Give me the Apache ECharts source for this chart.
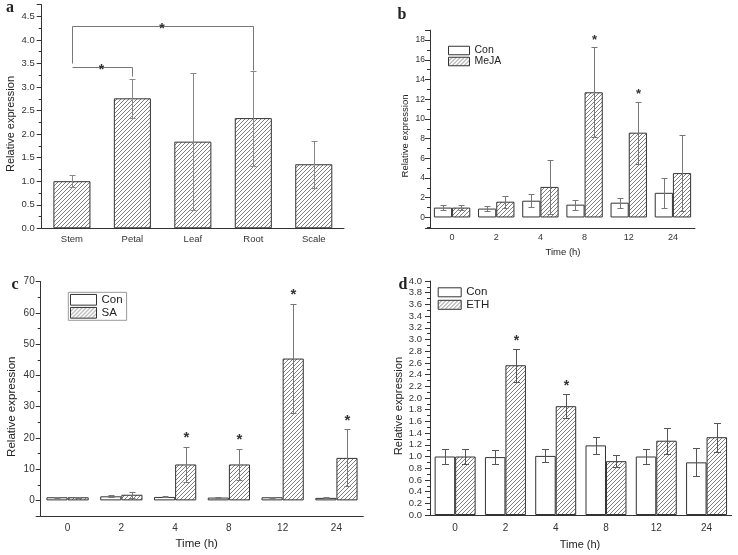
<!DOCTYPE html>
<html><head><meta charset="utf-8">
<script src="https://cdn.jsdelivr.net/npm/echarts@6/dist/echarts.min.js"></script>
<style>html,body{margin:0;padding:0;background:#fff}#c{width:738px;height:555px}</style>
</head><body><div id="c"></div>
<script>
// ---- Panel a ----
const aCats = ['Stem', 'Petal', 'Leaf', 'Root', 'Scale'];
const aMean = [1.0, 2.76, 1.84, 2.34, 1.36];
const aSD = [0.125, 0.41, 1.46, 1.01, 0.495];
const aBrFrom = [0, 0];
const aBrTo = [1, 3];
const aBrLevel = [3.42, 4.3];
const aBrLegFrom = [3.42, 3.5];
const aBrLegTo = [3.23, 3.37];

// ---- Time categories ----
const timeCats = ['0', '2', '4', '8', '12', '24'];

// ---- Panel b (MeJA) ----
const bCon = [1.0, 0.9, 1.7, 1.3, 1.5, 2.5];
const bConSD = [0.25, 0.25, 0.68, 0.5, 0.5, 1.5];
const bMeJA = [1.0, 1.6, 3.1, 12.7, 8.6, 4.5];
const bMeJASD = [0.25, 0.6, 2.7, 4.55, 3.15, 3.85];
const bSig = [0, 0, 0, 1, 1, 0];

// ---- Panel c (SA) ----
const cCon = [1.0, 1.3, 1.1, 0.9, 1.0, 0.8];
const cConSD = [0.15, 0.35, 0.15, 0.1, 0.15, 0.15];
const cSA = [1.0, 1.8, 11.5, 11.5, 45.4, 13.6];
const cSASD = [0.15, 1.0, 5.6, 4.9, 17.4, 9.1];
const cSig = [0, 0, 1, 1, 1, 1];

// ---- Panel d (ETH) ----
const dCon = [1.0, 0.99, 1.01, 1.19, 1.0, 0.9];
const dConSD = [0.12, 0.12, 0.11, 0.15, 0.12, 0.24];
const dETH = [1.0, 2.56, 1.86, 0.92, 1.27, 1.33];
const dETHSD = [0.12, 0.28, 0.2, 0.1, 0.22, 0.25];
const dSig = [0, 1, 1, 0, 0, 0];

const F = '"Liberation Sans", Arial, sans-serif';
const AX = '#333';

function makeHatch() {
  const s = 4;
  const c = document.createElement('canvas');
  c.width = s; c.height = s;
  const g = c.getContext('2d');
  g.fillStyle = '#fff'; g.fillRect(0, 0, s, s);
  g.strokeStyle = '#808080'; g.lineWidth = 1;
  g.beginPath();
  g.moveTo(0, s); g.lineTo(s, 0);
  g.moveTo(-1, 1); g.lineTo(1, -1);
  g.moveTo(s - 1, s + 1); g.lineTo(s + 1, s - 1);
  g.stroke();
  return c;
}
const hatch = { image: makeHatch(), repeat: 'repeat' };

function errData(mean, sd, sig) {
  return mean.map((m, i) => [i, m - sd[i], m + sd[i], sig ? sig[i] : 0]);
}

function errRender(slot, nSlots, gap, capW, color, starSize, starGap) {
  return function (params, api) {
    const i = api.value(0);
    const lo = api.coord([i, api.value(1)]);
    const hi = api.coord([i, api.value(2)]);
    const band = api.size([1, 0])[0];
    const bw = band * (1 - gap) / nSlots;
    const x = Math.round(lo[0] + (slot - (nSlots - 1) / 2) * bw) + 0.5;
    const yl = Math.round(lo[1]) + 0.5, yh = Math.round(hi[1]) + 0.5;
    const ls = { stroke: color, lineWidth: 1 };
    const ch = [
      { type: 'line', shape: { x1: x, y1: yl, x2: x, y2: yh }, style: ls },
      { type: 'line', shape: { x1: x - capW / 2, y1: yh, x2: x + capW / 2, y2: yh }, style: ls },
      { type: 'line', shape: { x1: x - capW / 2, y1: yl, x2: x + capW / 2, y2: yl }, style: ls }
    ];
    if (api.value(3)) {
      ch.push({ type: 'text', x: x, y: hi[1] - starGap,
        style: { text: '*', fill: '#333', font: 'bold ' + starSize + 'px ' + F, align: 'center', verticalAlign: 'middle' } });
    }
    return { type: 'group', children: ch };
  };
}

function bracketRender(params, api) {
  const f = api.value(0), lvl = api.value(1), t = api.value(2), lf = api.value(3), lt = api.value(4);
  const r = p => [Math.round(p[0]) + 0.5, Math.round(p[1]) + 0.5];
  const p1 = r(api.coord([f, lf])), p2 = r(api.coord([f, lvl])), p3 = r(api.coord([t, lvl])), p4 = r(api.coord([t, lt]));
  return { type: 'group', children: [
    { type: 'polyline', shape: { points: [p1, p2, p3, p4] }, style: { stroke: '#777', lineWidth: 1, fill: null } },
    { type: 'text', x: (p2[0] + p3[0]) / 2 - 1, y: p2[1] + 3,
      style: { text: '*', font: 'bold 14px ' + F, fill: '#333', align: 'center', verticalAlign: 'middle' } }
  ] };
}

function yAx(grid, min, max, extra, labelSize, labelMargin, showMin, showMax, fmt) {
  return Object.assign({
    type: 'value', gridIndex: grid, min: min, max: max,
    axisLine: { show: true, lineStyle: { color: AX } },
    axisTick: { show: true, length: 5, lineStyle: { color: AX } },
    minorTick: { show: true, splitNumber: 2, length: 3, lineStyle: { color: AX } },
    splitLine: { show: false }, minorSplitLine: { show: false },
    axisLabel: { fontSize: labelSize, color: '#333', fontFamily: F, margin: labelMargin,
      showMinLabel: showMin, showMaxLabel: showMax, formatter: fmt }
  }, extra);
}
function xAxes(grid, cats, labelSize, labelMargin) {
  return [
    { type: 'category', gridIndex: grid, data: cats, position: 'bottom',
      axisLine: { onZero: false, lineStyle: { color: AX } },
      axisTick: { alignWithLabel: true, length: 4, lineStyle: { color: AX } },
      axisLabel: { fontSize: labelSize, color: '#333', fontFamily: F, margin: labelMargin } },
    { type: 'category', gridIndex: grid, data: cats, position: 'bottom',
      axisLine: { show: false, onZero: false },
      axisTick: { length: 3, lineStyle: { color: AX } },
      axisLabel: { show: false } }
  ];
}

const conStyle = { color: '#fff', borderColor: '#333', borderWidth: 1 };
const hatchStyle = { color: hatch, borderColor: '#333', borderWidth: 1 };

function pairSeries(xi, yi, gap, names, m1, s1, m2, s2, sig, cap, errColor, starSize, starGap) {
  const g = (gap * 100) + '%';
  return [
    { name: names[0], type: 'bar', xAxisIndex: xi, yAxisIndex: yi, data: m1, barGap: '0%', barCategoryGap: g, itemStyle: conStyle, silent: true },
    { name: names[1], type: 'bar', xAxisIndex: xi, yAxisIndex: yi, data: m2, barGap: '0%', barCategoryGap: g, itemStyle: hatchStyle, silent: true },
    { type: 'custom', xAxisIndex: xi, yAxisIndex: yi, z: 5, silent: true, encode: { x: 0, y: [1, 2] },
      renderItem: errRender(0, 2, gap, cap, errColor, starSize, starGap), data: errData(m1, s1) },
    { type: 'custom', xAxisIndex: xi, yAxisIndex: yi, z: 5, silent: true, encode: { x: 0, y: [1, 2] },
      renderItem: errRender(1, 2, gap, cap, errColor, starSize, starGap), data: errData(m2, s2, sig) }
  ];
}

function legend(left, top, names, iw, ih, gap, fs, extra) {
  return Object.assign({
    orient: 'vertical', left: left, top: top, padding: 0, itemWidth: iw, itemHeight: ih, itemGap: gap,
    icon: 'rect', data: names, selectedMode: false,
    itemStyle: { borderColor: '#333', borderWidth: 1 },
    textStyle: { fontSize: fs, color: '#222', fontFamily: F }
  }, extra || {});
}

function txt(x, y, s, font, rot) {
  return { type: 'text', x: x, y: y, rotation: rot || 0,
    style: { text: s, font: font, fill: '#222', align: 'center', verticalAlign: 'middle' } };
}

const f1 = v => v.toFixed(1);

const option = {
  animation: false,
  backgroundColor: '#fff',
  grid: [
    { left: 41.7, top: 4.6, width: 302.3, height: 223.7 },
    { left: 430, top: 30.2, width: 265, height: 198.1 },
    { left: 40.7, top: 281.7, width: 322.6, height: 234.3 },
    { left: 430, top: 281, width: 301.7, height: 234 }
  ],
  xAxis: [].concat(
    xAxes(0, aCats, 9.5, 6),
    xAxes(1, timeCats, 9, 5),
    xAxes(2, timeCats, 10, 7),
    xAxes(3, timeCats, 10, 8)
  ),
  yAxis: [
    yAx(0, 0, 4.75, { interval: 0.5 }, 9.5, 7, true, false, f1),
    yAx(1, -1.1, 19, { splitNumber: 10 }, 8.5, 5, false, false),
    yAx(2, -5, 70, { splitNumber: 7 }, 10, 6, false, true),
    yAx(3, 0, 4, { interval: 0.2 }, 9.5, 8, true, true, f1)
  ],
  legend: [
    legend(448, 45, ['Con', 'MeJA'], 21, 8.5, 0, 10.5),
    legend(68.3, 292.3, ['Con', 'SA'], 26, 10.7, 1, 11.5,
      { borderColor: '#999', borderWidth: 1, padding: [1.5, 4, 1.5, 1.7] }),
    legend(437.7, 286.3, ['Con', 'ETH'], 23, 9, 0.5, 11.5)
  ],
  graphic: [
    txt(10, 8, 'a', 'bold 16px "Liberation Serif", serif'),
    txt(402, 15, 'b', 'bold 16px "Liberation Serif", serif'),
    txt(15, 285, 'c', 'bold 16px "Liberation Serif", serif'),
    txt(403, 284.5, 'd', 'bold 16px "Liberation Serif", serif'),
    txt(10.5, 124, 'Relative expression', '11px ' + F, Math.PI / 2),
    txt(405.5, 136, 'Relative expression', '9.5px ' + F, Math.PI / 2),
    txt(12, 406.7, 'Relative expression', '11.5px ' + F, Math.PI / 2),
    txt(398.7, 406, 'Relative expression', '11.3px ' + F, Math.PI / 2),
    txt(563, 252.5, 'Time (h)', '9.5px ' + F),
    txt(196.7, 544, 'Time (h)', '11.5px ' + F),
    txt(580, 545, 'Time (h)', '11px ' + F)
  ],
  series: [].concat(
    [
      { name: 'Expression', type: 'bar', xAxisIndex: 0, yAxisIndex: 0, data: aMean, barCategoryGap: '38.7%', itemStyle: hatchStyle, silent: true },
      { type: 'custom', xAxisIndex: 0, yAxisIndex: 0, z: 5, silent: true, encode: { x: 0, y: [1, 2] },
        renderItem: errRender(0, 1, 0.387, 6, '#888', 13, 8), data: errData(aMean, aSD) },
      { type: 'custom', xAxisIndex: 0, yAxisIndex: 0, z: 5, silent: true, encode: { x: [0, 2], y: [1, 3, 4] },
        renderItem: bracketRender,
        data: aBrFrom.map((f, k) => [f, aBrLevel[k], aBrTo[k], aBrLegFrom[k], aBrLegTo[k]]) }
    ],
    pairSeries(2, 1, 0.176, ['Con', 'MeJA'], bCon, bConSD, bMeJA, bMeJASD, bSig, 6, '#777', 13, 7),
    pairSeries(4, 2, 0.214, ['Con', 'SA'], cCon, cConSD, cSA, cSASD, cSig, 6, '#777', 15, 9),
    pairSeries(6, 3, 0.185, ['Con', 'ETH'], dCon, dConSD, dETH, dETHSD, dSig, 7, '#555', 14, 8)
  )
};

const chart = echarts.init(document.getElementById('c'), null, { renderer: 'canvas' });
chart.setOption(option);
</script>
</body></html>
